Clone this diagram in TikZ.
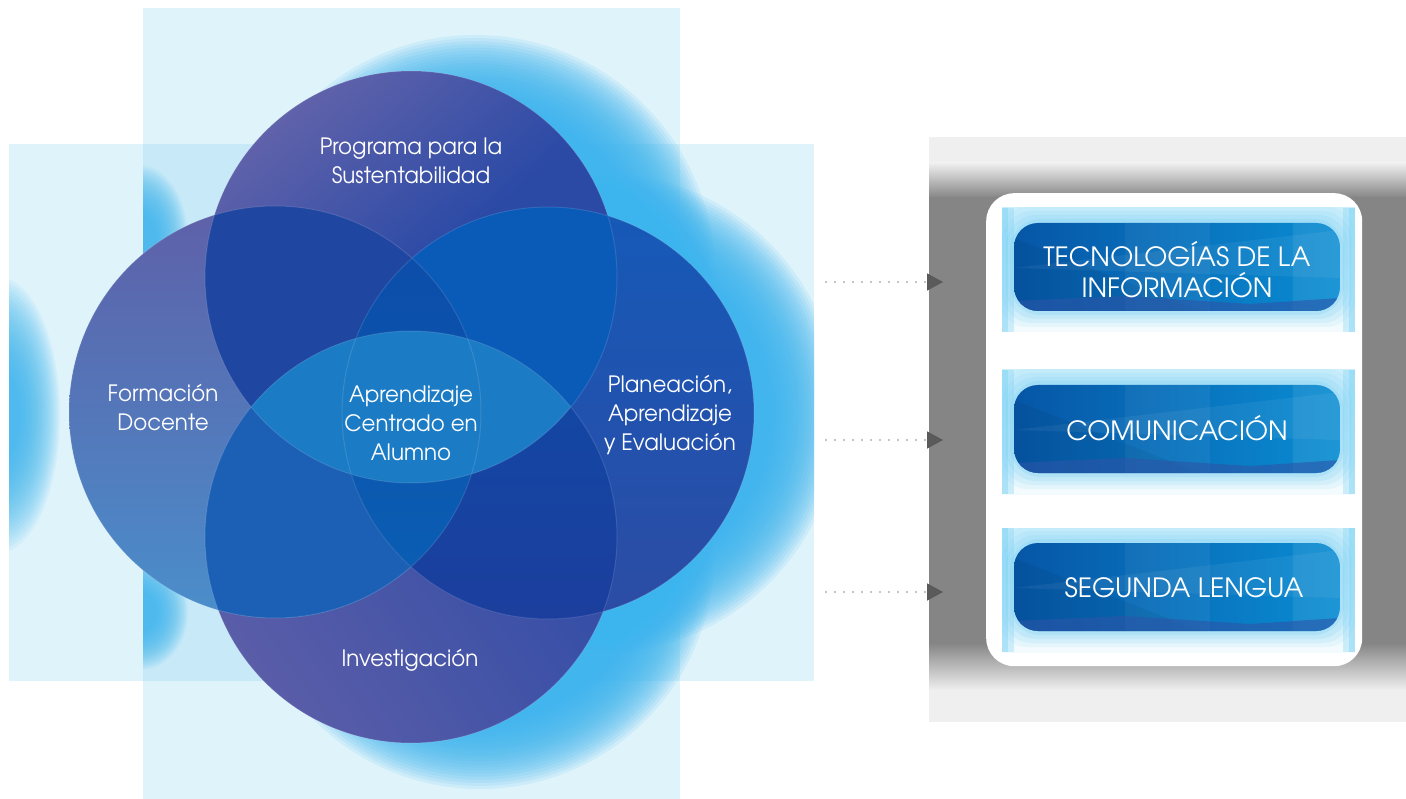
\documentclass[tikz,border=0pt]{standalone}
\usepackage{fontspec}
\setmainfont{texgyreadventor-regular.otf}
\newfontfamily\circfont[FakeStretch=0.95]{texgyreadventor-regular.otf}
\usetikzlibrary{arrows.meta}

\definecolor{rectblue}{HTML}{DFF3FB}
\definecolor{rectover}{HTML}{C8EAF8}
\definecolor{glowc}{HTML}{3CB5EE}
\definecolor{purp}{HTML}{6062AA}
\definecolor{purpB}{HTML}{5A5DA8}
\definecolor{blueA}{HTML}{2B4AA6}
\definecolor{lT}{HTML}{5E60A8}
\definecolor{lM}{HTML}{4F7BBE}
\definecolor{lB}{HTML}{4A8ECB}
\definecolor{rT}{HTML}{1659B8}
\definecolor{rM}{HTML}{2464B7}
\definecolor{rB}{HTML}{2C4CA4}
\definecolor{ovTL}{HTML}{1F46A1}
\definecolor{ovTR}{HTML}{0A5AB8}
\definecolor{ovLB}{HTML}{1C60B6}
\definecolor{ovRBt}{HTML}{0B4EAA}
\definecolor{ovRBb}{HTML}{1C3E9D}
\definecolor{ovLRt}{HTML}{0C4BA8}
\definecolor{ovLRb}{HTML}{0A60B4}
\definecolor{lens}{HTML}{1B7BC5}
\definecolor{panelL}{HTML}{EFEFEF}
\definecolor{panelD}{HTML}{858585}
\definecolor{bandTop}{HTML}{CDEFFB}
\definecolor{bandBot}{HTML}{F4FBFE}
\definecolor{bandC}{HTML}{74CFF4}
\definecolor{btnL}{HTML}{0656A6}
\definecolor{btnR}{HTML}{0A8DD3}
\definecolor{bpurple}{HTML}{2C55A8}
\definecolor{dotgray}{HTML}{8A8A8A}
\definecolor{tipgray}{HTML}{5A5A5A}

\tikzset{
  lbl/.style={text=white, font=\circfont\fontsize{22.5}{29}\selectfont, align=center, inner sep=0pt},
  btntext/.style={text=white, font=\fontsize{26.5}{31}\selectfont, align=center, inner sep=0pt},
  dotarrow/.style={draw=dotgray, line width=1.7pt, dash pattern=on 0pt off 9pt, line cap=round,
     -{Triangle[length=16pt,width=17pt,color=tipgray]}},
}

\def\ctop{(411,277) circle[radius=206]}
\def\cbot{(411,537) circle[radius=206]}
\def\cleft{(275,412) circle[radius=206]}
\def\cright{(548,413) circle[radius=206]}

% soft glow ellipse: #1 centre, #2 x radius, #3 y radius, #4 fade share, #5 ring opacity
\newcommand\glowell[5]{%
  \foreach \k in {0,...,23}{
    \fill[glowc, opacity=#5] #1 ellipse[x radius={#2*(1-#4*\k/23)}, y radius={#3*(1-#4*\k/23)}];
  }
}

\newcommand\drawband[1]{%
  \shade[top color=bandTop, bottom color=bandBot] (1002,#1) rectangle (1355,#1+124);
  \begin{scope}
    \clip (1002,#1) rectangle (1355,#1+124);
    \foreach \e/\o in {16/0.10,12/0.14,8/0.18,4/0.22}{
      \fill[bandC, opacity=\o, rounded corners=30pt] (1014-\e,#1+15-\e) rectangle (1340+\e,#1+103+\e);
    }
    \foreach \w/\o in {12/0.3,6/0.35}{
      \fill[bandC, opacity=\o] (1002,#1) rectangle (1002+\w,#1+124);
      \fill[bandC, opacity=\o] (1355-\w,#1) rectangle (1355,#1+124);
    }
  \end{scope}
  \begin{scope}
    \clip[rounded corners=24pt] (1014,#1+15) rectangle (1340,#1+103);
    \shade[left color=btnL, right color=btnR] (1014,#1+15) rectangle (1340,#1+103);
    \fill[white, opacity=0.05] (1125,#1+15) rectangle (1210,#1+103);
    \fill[white, opacity=0.08] (1293,#1+15) rectangle (1340,#1+103);
    \fill[white, opacity=0.06] (1014,#1+60) -- (1340,#1+22) -- (1340,#1+70) -- cycle;
    \fill[black, opacity=0.05] (1014,#1+30) -- (1200,#1+103) -- (1014,#1+103) -- cycle;
    \fill[bpurple, opacity=0.6] (1014,#1+93) -- (1125,#1+88) -- (1250,#1+96) -- (1340,#1+90) -- (1340,#1+103) -- (1014,#1+103) -- cycle;
  \end{scope}
}

\begin{document}
\begin{tikzpicture}[x=1pt,y=-1pt]
\useasboundingbox (0,0) rectangle (1406,799);

% background rectangles
\fill[rectblue] (143,8) rectangle (680,799);
\fill[rectblue] (9,144) rectangle (814,681);
\fill[rectover] (143,144) rectangle (680,681);

% glow behind the circles
\begin{scope}
  \clip (143,8) rectangle (680,799) (9,144) rectangle (814,681);
  \glowell{(475,275)}{240}{240}{0.3}{0.11}
  \glowell{(600,413)}{240}{240}{0.3}{0.11}
  \glowell{(480,555)}{234}{234}{0.3}{0.11}
\end{scope}
\begin{scope}
  \clip (143,8) rectangle (680,799);
  \glowell{(140,240)}{48}{75}{0.65}{0.07}
  \glowell{(140,612)}{48}{58}{0.65}{0.07}
\end{scope}
\begin{scope}
  \clip (9,144) rectangle (814,681);
  \glowell{(-2,415)}{62}{138}{0.65}{0.075}
\end{scope}

% circles
\shade[top color=purp, bottom color=blueA, middle color=blueA, shading angle=40] \ctop;
\shade[top color=blueA, middle color=blueA, bottom color=purpB, shading angle=-55] \cbot;
\shade[top color=lT, middle color=lM, bottom color=lB] \cleft;
\shade[top color=rT, middle color=rM, bottom color=rB] \cright;

\begin{scope}\clip \ctop; \fill[ovTL] \cleft; \end{scope}
\begin{scope}\clip \ctop; \fill[ovTR] \cright; \end{scope}
\begin{scope}\clip \cbot; \fill[ovLB] \cleft; \end{scope}
\begin{scope}\clip \cbot; \shade[top color=ovRBt, bottom color=ovRBb] \cright; \end{scope}
\begin{scope}\clip \cleft; \shade[top color=ovLRt, bottom color=ovLRb] \cright; \end{scope}
\begin{scope}\clip \ctop; \fill[lens] \cbot; \end{scope}

\draw[white, opacity=0.12, line width=1pt] \ctop \cbot \cleft \cright;

% circle labels
\node[lbl] (t1) at (411,161) {Programa para la\\Sustentabilidad};
\node[lbl] (t2) at (163,408) {Formación\\Docente};
\node[lbl] (t3) at (411,423) {Aprendizaje\\Centrado en\\Alumno};
\node[lbl] (t4) at (670,415) {Planeación,\\Aprendizaje\\y Evaluación};
\node[lbl] (t5) at (410,660) {Investigación};

% right panel
\node[fill=panelL, minimum width=477pt, minimum height=585pt, inner sep=0pt, anchor=north west] (panel) at (929,137) {};
\shade[top color=panelL, bottom color=panelD] (929,163) rectangle (1406,198);
\fill[panelD] (929,197) rectangle (1406,644);
\shade[top color=panelD, bottom color=panelL] (929,643) rectangle (1406,690);
\node[fill=white, rounded corners=28pt, minimum width=376pt, minimum height=473pt, inner sep=0pt, anchor=north west] (card) at (986,193) {};

\drawband{208}
\drawband{370}
\drawband{528}

\node[btntext] (b1) at (1177,270) {TECNOLOGÍAS DE LA\\INFORMACIÓN};
\node[btntext] (b2) at (1177,428) {COMUNICACIÓN};
\node[btntext] (b3) at (1184,588) {SEGUNDA LENGUA};

% connectors
\coordinate (s1) at (826,282);
\coordinate (s2) at (826,440);
\coordinate (s3) at (826,592);
\coordinate (e1) at (s1 -| panel.west);
\coordinate (e2) at (s2 -| panel.west);
\coordinate (e3) at (s3 -| panel.west);
\draw[dotarrow] (s1) -- ([xshift=14pt]e1);
\draw[dotarrow] (s2) -- ([xshift=14pt]e2);
\draw[dotarrow] (s3) -- ([xshift=14pt]e3);
\end{tikzpicture}
\end{document}
